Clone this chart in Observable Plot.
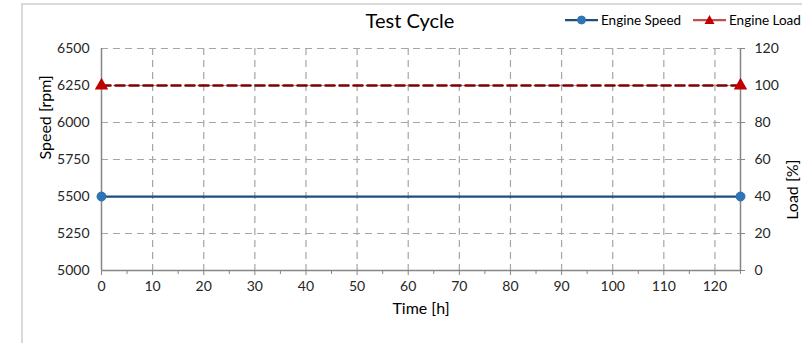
<!DOCTYPE html>
<html>
<head>
<meta charset="utf-8">
<script src="https://cdn.jsdelivr.net/npm/d3@7"></script>
<script src="https://cdn.jsdelivr.net/npm/@observablehq/plot@0.6"></script>
<style>
  html, body { margin: 0; padding: 0; background: #fff; }
  #wrap { position: relative; width: 802px; height: 343px; overflow: hidden; font-family: Lato, "Open Sans", sans-serif; }
  #frame { position: absolute; left: 21px; top: 3px; width: 800px; height: 360px; border-left: 2px solid #d9d9d9; border-top: 2px solid #d9d9d9; box-sizing: border-box; }
  #title { position: absolute; left: 0; width: 820px; top: 8px; text-align: center; font-size: 20px; font-weight: 400; color: #000; }
  .leg { position: absolute; top: 12px; font-size: 13.5px; color: #000; display: flex; align-items: center; white-space: nowrap; }
  .leg svg { margin-right: 3px; }
  #chart { position: absolute; left: 0; top: 0; }
</style>
</head>
<body>
<div id="wrap">
  <div id="frame"></div>
  <div id="chart"></div>
  <div id="title">Test Cycle</div>
  <div class="leg" style="left:565px"><svg width="33" height="12"><line x1="0" y1="6" x2="33" y2="6" stroke="#1F4E79" stroke-width="2.25"/><circle cx="16.5" cy="6" r="4" fill="#2E75B6" stroke="#2E75B6"/></svg>Engine Speed</div>
  <div class="leg" style="left:693px"><svg width="33" height="12"><line x1="0" y1="6" x2="33" y2="6" stroke="#C0504D" stroke-width="2.25"/><path d="M16.5,1 L21.5,10 L11.5,10 Z" fill="#C00000"/></svg>Engine Load</div>
</div>
<script>
// ---- data ----
const time = [0, 125];
const engineSpeed = [5500, 5500];   // rpm
const engineLoad = [100, 100];      // %
const speedTicks = [5000, 5250, 5500, 5750, 6000, 6250, 6500];
const loadTicks = [0, 20, 40, 60, 80, 100, 120];
const timeTicks = [0, 10, 20, 30, 40, 50, 60, 70, 80, 90, 100, 110, 120];
const timeMinorTicks = [5, 15, 25, 35, 45, 55, 65, 75, 85, 95, 105, 115, 125];

// map load (%) onto the speed axis
const loadToSpeed = d3.scaleLinear().domain([0, 120]).range([5000, 6500]);

const speedData = time.map((t, i) => ({t, v: engineSpeed[i]}));
const loadData = time.map((t, i) => ({t, v: loadToSpeed(engineLoad[i])}));

const gridCol = "#a6a6a6";
const axisCol = "#868686";
const textCol = "#262626";

const chart = Plot.plot({
  width: 802,
  height: 343,
  marginLeft: 101,
  marginRight: 62,
  marginTop: 48,
  marginBottom: 73,
  style: {fontFamily: "Lato, 'Open Sans', sans-serif", fontSize: "14px", color: textCol, background: "transparent"},
  x: {domain: [0, 125]},
  y: {domain: [5000, 6500]},
  marks: [
    // grid
    Plot.ruleX(timeTicks.filter(d => d > 0), {stroke: gridCol, strokeWidth: 1.2, strokeDasharray: "7,5"}),
    Plot.ruleY(speedTicks.filter(d => d > 5000), {stroke: gridCol, strokeWidth: 1.2, strokeDasharray: "7,5"}),
    // axes lines
    Plot.ruleX([0, 125], {stroke: axisCol, strokeWidth: 1.5}),
    Plot.ruleY([5000], {stroke: axisCol, strokeWidth: 1.5}),
    Plot.axisX({ticks: timeTicks, tickSize: 5, tickPadding: 6, stroke: axisCol, label: null, fontSize: 14}),
    Plot.axisX({ticks: timeMinorTicks, tickSize: 4, tickFormat: () => "", stroke: axisCol, label: null}),
    Plot.axisY({ticks: speedTicks, tickSize: 0, tickPadding: 12, tickFormat: d3.format("d"), label: null, fontSize: 14}),
    Plot.axisY({anchor: "right", ticks: loadTicks.map(d => loadToSpeed(d)), tickFormat: d => Math.round(loadToSpeed.invert(d)), tickSize: 4, tickPadding: 10, stroke: axisCol, label: null, fontSize: 14}),
    // axis titles
    Plot.text(["Speed [rpm]"], {frameAnchor: "left", dx: -56, rotate: -90, fontSize: 16, fill: "#000"}),
    Plot.text(["Load [%]"], {frameAnchor: "right", dx: 52, rotate: -90, fontSize: 16, fill: "#000"}),
    Plot.text(["Time [h]"], {frameAnchor: "bottom", dy: 43, fontSize: 16, fill: "#000"}),
    // series
    Plot.line(loadData, {x: "t", y: "v", stroke: "#7F0000", strokeWidth: 2.6, strokeDasharray: "9,5"}),
    Plot.dot(loadData, {x: "t", y: "v", symbol: "triangle", r: 5, fill: "#C00000", stroke: "none"}),
    Plot.line(speedData, {x: "t", y: "v", stroke: "#1F4E79", strokeWidth: 2.25}),
    Plot.dot(speedData, {x: "t", y: "v", r: 4.5, fill: "#2E75B6", stroke: "#2F6FAE", strokeWidth: 1})
  ]
});
document.getElementById("chart").appendChild(chart);
</script>
</body>
</html>
